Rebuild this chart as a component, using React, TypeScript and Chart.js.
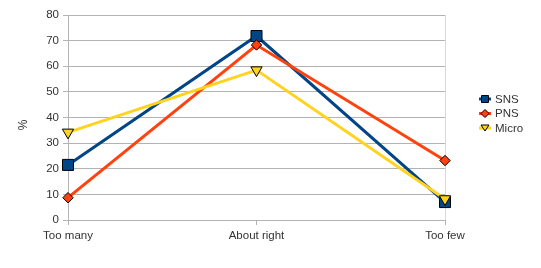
import React, { useEffect, useRef } from "react";
import { Chart, registerables } from "chart.js";
Chart.register(...registerables);

const categories = ["Too many", "About right", "Too few"];
const snsValues = [21.5, 71.8, 7];
const pnsValues = [8.7, 68.3, 23.2];
const microValues = [34.2, 58.5, 8.2];
const yTicks = [0, 10, 20, 30, 40, 50, 60, 70, 80];

const seriesNames = ["SNS", "PNS", "Micro"];
const seriesColors = ["#004586", "#ff420e", "#ffd320"];
const FONT = "'Liberation Sans', Arial, sans-serif";

const legendPlugin = {
  id: "customLegend",
  afterDraw(chart: any) {
    const ctx = chart.ctx;
    const x0 = 479;
    const y0 = 99;
    ctx.save();
    // y-axis title
    ctx.fillStyle = "#333";
    ctx.font = "12px " + FONT;
    ctx.textAlign = "center";
    ctx.textBaseline = "middle";
    ctx.translate(24, 125);
    ctx.rotate(-Math.PI / 2);
    ctx.fillText("%", 0, 0);
    ctx.setTransform(1, 0, 0, 1, 0, 0);
    seriesNames.forEach((name, i) => {
      const y = y0 + i * 14.5;
      ctx.strokeStyle = seriesColors[i];
      ctx.lineWidth = 3;
      ctx.beginPath();
      ctx.moveTo(x0, y);
      ctx.lineTo(x0 + 12, y);
      ctx.stroke();
      ctx.fillStyle = seriesColors[i];
      ctx.strokeStyle = "#000";
      ctx.lineWidth = 1;
      const cx = x0 + 6;
      ctx.beginPath();
      if (i === 0) {
        ctx.rect(cx - 3.5, y - 3.5, 7, 7);
      } else if (i === 1) {
        ctx.moveTo(cx, y - 4);
        ctx.lineTo(cx + 4, y);
        ctx.lineTo(cx, y + 4);
        ctx.lineTo(cx - 4, y);
        ctx.closePath();
      } else {
        ctx.moveTo(cx - 4, y - 3);
        ctx.lineTo(cx + 4, y - 3);
        ctx.lineTo(cx, y + 3);
        ctx.closePath();
      }
      ctx.fill();
      ctx.stroke();
      ctx.fillStyle = "#333";
      ctx.font = "11.5px " + FONT;
      ctx.textBaseline = "middle";
      ctx.textAlign = "left";
      ctx.fillText(name, x0 + 16, y + 0.5);
    });
    ctx.restore();
  },
};

export default function App() {
  const ref = useRef<HTMLCanvasElement>(null);
  useEffect(() => {
    const pointStyles: any[] = ["rect", "rectRot", "triangle"];
    const radii = [7.8, 5.2, 6.5];
    const rotations = [0, 0, 180];
    const data = [snsValues, pnsValues, microValues];
    const chart = new Chart(ref.current!, {
      type: "line",
      data: {
        labels: categories,
        datasets: seriesNames.map((name, i) => ({
          label: name,
          data: data[i],
          order: 2 - i,
          borderColor: seriesColors[i],
          backgroundColor: seriesColors[i],
          borderWidth: 3,
          pointStyle: pointStyles[i],
          pointRadius: radii[i],
          pointRotation: rotations[i],
          pointBorderColor: "#000",
          pointBorderWidth: 1,
          pointBackgroundColor: seriesColors[i],
          tension: 0,
        })),
      },
      options: {
        animation: false,
        responsive: false,
        maintainAspectRatio: false,
        layout: { padding: { top: 15, right: 96, bottom: 0, left: 0 } },
        plugins: { legend: { display: false }, tooltip: { enabled: false } },
        scales: {
          x: {
            offset: false,
            grid: {
              drawOnChartArea: true,
              color: (c: any) => (c.index === 2 ? "#d9d9d9" : "rgba(0,0,0,0)"),
              tickColor: "#b3b3b3",
              tickLength: 5,
            },
            border: { color: "#b3b3b3" },
            ticks: {
              color: "#333",
              font: { size: 11.5, family: FONT },
              padding: 4,
              maxRotation: 0,
            },
            afterFit: (s: any) => {
              s.height = 48;
            },
          },
          y: {
            min: 0,
            max: 80,
            afterBuildTicks: (s: any) => {
              s.ticks = yTicks.map((v) => ({ value: v }));
            },
            grid: { color: "#b3b3b3", tickLength: 5, tickColor: "#b3b3b3" },
            border: { color: "#b3b3b3" },
            ticks: {
              color: "#333",
              font: { size: 11.5, family: FONT },
              padding: 4,
            },
            afterFit: (s: any) => {
              s.width = 68;
            },
          },
        },
      },
      plugins: [legendPlugin],
    });
    return () => chart.destroy();
  }, []);
  return (
    <div style={{ position: "absolute", left: 0, top: 0, width: 541, height: 268, background: "#fff" }}>
      <canvas ref={ref} width={541} height={268} style={{ width: 541, height: 268 }} />
    </div>
  );
}
